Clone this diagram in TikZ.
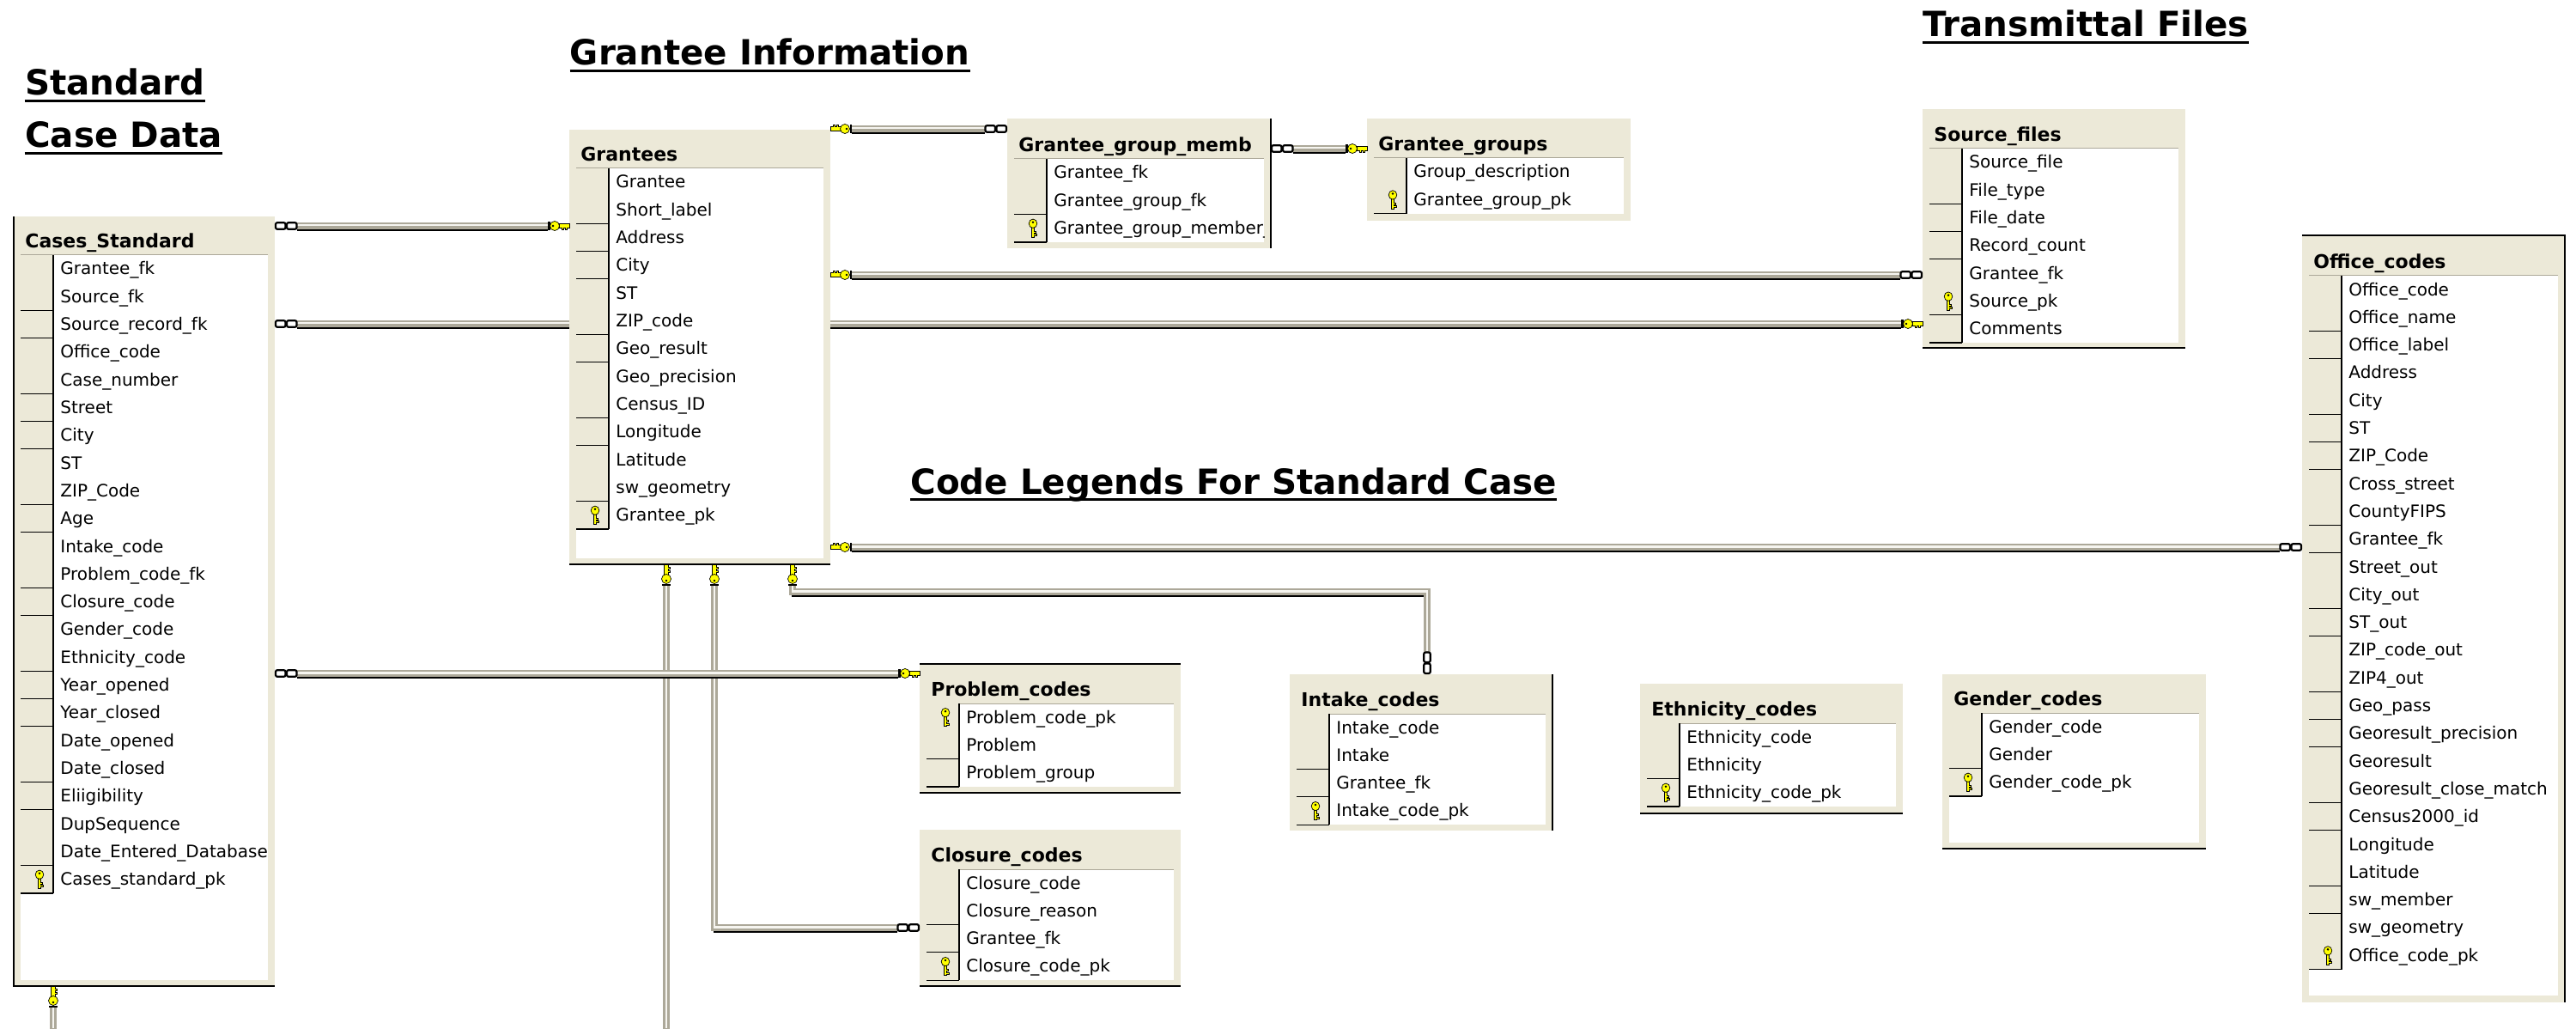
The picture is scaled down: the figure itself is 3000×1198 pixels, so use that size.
\documentclass[tikz,border=0pt]{standalone}
\usepackage{fontspec}
\setmainfont{DejaVu Sans}
\usetikzlibrary{calc}
\pgfdeclarelayer{background}
\pgfsetlayers{background,main}
\definecolor{beige}{HTML}{ECE9D8}
\definecolor{cgray}{HTML}{ACA899}
\definecolor{chi}{HTML}{F6F5F0}
\definecolor{kyel}{HTML}{FFFF00}
\tikzset{
  tblbox/.style={fill=beige, draw=none, inner sep=0pt, outer sep=0pt},
  rowtxt/.style={anchor=base west, inner sep=0pt, font=\fontsize{10}{12}\selectfont},
  ttltxt/.style={anchor=base west, inner sep=0pt, font=\fontsize{11}{13}\selectfont\bfseries},
  hd/.style={anchor=base west, inner sep=0pt, font=\fontsize{20.2}{24}\selectfont\bfseries},
  ulin/.style={line width=1.5pt, black},
  bord/.style={line width=0.75pt, black},
  gsep/.style={line width=0.7pt, black},
  connshadow/.style={line width=1.2pt, black, transform canvas={yshift=-2.3pt}},
  connbase/.style={line width=4pt, cgray},
  connhi/.style={line width=1.3pt, chi, transform canvas={yshift=0.4pt}},
  keystart/.style={shorten <=12.5pt}, keyend/.style={shorten >=12.5pt},
  infstart/.style={shorten <=13pt}, infend/.style={shorten >=13pt},
  pkkey/.pic={
    \draw[line width=0.35pt, fill=kyel] (-1.8,-1) -- (-1.8,10.5) -- (1.8,10.5) -- (1.8,9) -- (4,9) -- (4,7) -- (1.8,7) -- (1.8,5.5) -- (3.5,5.5) -- (3.5,3.5) -- (1.8,3.5) -- (1.8,-1) -- cycle;
    \draw[line width=0.35pt, fill=kyel] (0,-5.5) ellipse [x radius=4.8, y radius=5.2];
    \fill[black] (0,-7) circle [radius=1.4];
  },
  ckey/.pic={
    \fill[black] (-25,-5) rectangle (-22.5,5);
    \draw[line width=0.35pt, fill=kyel] (0,-2.5) -- (-12,-2.5) -- (-12,2.5) -- (-9,2.5) -- (-9,4.5) -- (-7,4.5) -- (-7,2.5) -- (-5,2.5) -- (-5,4.5) -- (-3,4.5) -- (-3,2.5) -- (0,2.5) -- cycle;
    \draw[line width=0.35pt, fill=kyel] (-17,0) circle [radius=5.5];
    \fill[black] (-19,0) circle [radius=1.3];
  },
  cinf/.pic={
    \draw[line width=1.1pt, fill=white, rounded corners=1pt] (-25.5,-3.8) rectangle (-14,3.8);
    \draw[line width=1.1pt, fill=white, rounded corners=1pt] (-12.5,-3.8) rectangle (-1,3.8);
    \fill[black] (-14,-1.2) rectangle (-12.5,1.2);
  }
}
% #1 name, #2 L, #3 T, #4 R, #5 B, #6 white top, #7 white bottom, #8 title, #9 rows
\newcommand\dbtable[9]{%
  \pgfmathsetmacro\tblw{(#4-#2)*0.5}%
  \pgfmathsetmacro\tblh{(#5-#3)*0.5}%
  \node[tblbox, minimum width=\tblw pt, minimum height=\tblh pt, anchor=north west] (#1) at (#2,#3) {};
  \fill[white] ({#2+8},#6) rectangle ({#4-8},#7);
  \draw[cgray, line width=0.5pt] ({#2+8},#6) -- ({#4-8},#6);
  \begin{scope}
    \clip ({#2+8},#3) rectangle ({#4-8},#5);
    \node[ttltxt] (#1-t) at ({#2+13},{#6-8.5}) {#8};
    \foreach \txt/\k [count=\i] in {#9} {
      \pgfmathsetmacro\ya{#6+(\i-1)*32.3}
      \pgfmathsetmacro\yb{#6+\i*32.3}
      \fill[beige] ({#2+8},\ya) rectangle ({#2+46},\yb);
      \draw[gsep] ({#2+8},\yb) -- ({#2+46},\yb);
      \draw[gsep] ({#2+46},\ya) -- ({#2+46},\yb);
      \node[rowtxt] (#1-r\i) at ({#2+54},{\ya+23}) {\txt};
      \ifnum\k=1 \pic at ({#2+30},{\ya+16.15}) {pkkey}; \fi
    }
  \end{scope}
}
\newcommand\conn[2]{%
  \draw[connshadow,#1] #2;
  \draw[connbase,#1] #2;
  \draw[connhi,#1] #2;
}
\begin{document}
\begin{tikzpicture}[x=0.5pt,y=-0.5pt]
\useasboundingbox (0,0) rectangle (3000,1198);
\begin{pgfonlayer}{background}
\fill[white] (0,0) rectangle (3000,1198);
\end{pgfonlayer}

% headings
\node[hd] (h1) at (28.7,111) {Standard~};
\node[hd] (h2) at (28.7,171.7) {Case Data};
\node[hd] (h3) at (663.5,76) {Grantee Information};
\node[hd] (h4) at (2239,42.7) {Transmittal Files};
\node[hd] (h5) at (1060,575) {Code Legends For Standard Case~};
\foreach \h in {h1,h2,h3,h4,h5} {
  \draw[ulin] ($(\h.base west)+(0,6.5)$) -- ($(\h.base east)+(0,6.5)$);
}

% tables
\dbtable{cases}{16}{252}{320}{1148}{297}{1141}{Cases\_Standard}{Grantee\_fk/0,Source\_fk/0,Source\_record\_fk/0,Office\_code/0,Case\_number/0,Street/0,City/0,ST/0,ZIP\_Code/0,Age/0,Intake\_code/0,Problem\_code\_fk/0,Closure\_code/0,Gender\_code/0,Ethnicity\_code/0,Year\_opened/0,Year\_closed/0,Date\_opened/0,Date\_closed/0,Eliigibility/0,DupSequence/0,Date\_Entered\_Database/0,Cases\_standard\_pk/1}
\dbtable{grantees}{663}{151}{967}{657}{196}{650}{Grantees}{Grantee/0,Short\_label/0,Address/0,City/0,ST/0,ZIP\_code/0,Geo\_result/0,Geo\_precision/0,Census\_ID/0,Longitude/0,Latitude/0,sw\_geometry/0,Grantee\_pk/1}
\dbtable{ggm}{1173}{138}{1480}{289}{185}{282}{Grantee\_group\_memb}{Grantee\_fk/0,Grantee\_group\_fk/0,Grantee\_group\_member\_/1}
\dbtable{gg}{1592}{138}{1899}{257}{184}{249}{Grantee\_groups}{Group\_description/0,Grantee\_group\_pk/1}
\dbtable{source}{2239}{127}{2545}{405}{173}{399}{Source\_files}{Source\_file/0,File\_type/0,File\_date/0,Record\_count/0,Grantee\_fk/0,Source\_pk/1,Comments/0}
\dbtable{office}{2681}{274}{2987}{1167}{321}{1159}{Office\_codes}{Office\_code/0,Office\_name/0,Office\_label/0,Address/0,City/0,ST/0,ZIP\_Code/0,Cross\_street/0,CountyFIPS/0,Grantee\_fk/0,Street\_out/0,City\_out/0,ST\_out/0,ZIP\_code\_out/0,ZIP4\_out/0,Geo\_pass/0,Georesult\_precision/0,Georesult/0,Georesult\_close\_match/0,Census2000\_id/0,Longitude/0,Latitude/0,sw\_member/0,sw\_geometry/0,Office\_code\_pk/1}
\dbtable{problem}{1071}{773}{1375}{923}{819}{916}{Problem\_codes}{Problem\_code\_pk/1,Problem/0,Problem\_group/0}
\dbtable{closure}{1071}{966}{1375}{1148}{1012}{1141}{Closure\_codes}{Closure\_code/0,Closure\_reason/0,Grantee\_fk/0,Closure\_code\_pk/1}
\dbtable{intake}{1502}{785}{1808}{967}{831}{960}{Intake\_codes}{Intake\_code/0,Intake/0,Grantee\_fk/0,Intake\_code\_pk/1}
\dbtable{ethnicity}{1910}{796}{2216}{947}{842}{939}{Ethnicity\_codes}{Ethnicity\_code/0,Ethnicity/0,Ethnicity\_code\_pk/1}
\dbtable{gender}{2262}{785}{2569}{988}{830}{981}{Gender\_codes}{Gender\_code/0,Gender/0,Gender\_code\_pk/1}

% borders
\draw[bord] (cases.north west) -- (cases.south west) -- (cases.south east);
\draw[bord] (grantees.south west) -- (grantees.south east);
\draw[bord] (ggm.north east) -- (ggm.south east);
\draw[bord] (source.south west) -- (source.south east);
\draw[bord] (office.north west) -- (office.north east) -- (office.south east);
\draw[bord] (problem.north west) -- (problem.north east);
\draw[bord] (problem.south west) -- (problem.south east);
\draw[bord] (closure.south west) -- (closure.south east);
\draw[bord] (intake.north east) -- (intake.south east);
\draw[bord] (ethnicity.south west) -- (ethnicity.south east);
\draw[bord] (gender.south west) -- (gender.south east);

% connector end points
\coordinate (a1) at ($(cases.north east)+(0,11)$);
\coordinate (a2) at ($(cases.north east)+(0,125)$);
\coordinate (a3) at ($(cases.north east)+(0,532)$);
\coordinate (b1) at ($(grantees.north east)+(0,-1)$);
\coordinate (b2) at ($(grantees.north east)+(0,169)$);
\coordinate (b3) at ($(grantees.north east)+(0,486)$);
\coordinate (g1) at ($(ggm.north east)+(0,35)$);
\coordinate (d1) at ($(grantees.south west)+(113,0)$);
\coordinate (d2) at ($(grantees.south west)+(169,0)$);
\coordinate (d3) at ($(grantees.south west)+(260,0)$);
\coordinate (d3b) at ($(d3)+(0,32)$);
\coordinate (d1e) at (d1 |- 0,1198);
\coordinate (cl) at ($(closure.north west)+(0,114)$);
\coordinate (in) at ($(intake.north west)+(160,0)$);
\coordinate (cb) at ($(cases.south west)+(46,0)$);
\coordinate (cbe) at (cb |- 0,1198);
\coordinate (a1e) at (a1 -| grantees.west);
\coordinate (a2e) at (a2 -| source.west);
\coordinate (a3e) at (a3 -| problem.west);
\coordinate (b1e) at (b1 -| ggm.west);
\coordinate (b2e) at (b2 -| source.west);
\coordinate (b3e) at (b3 -| office.west);
\coordinate (g1e) at (g1 -| gg.west);

\begin{pgfonlayer}{background}
\conn{infstart,keyend}{(a1) -- (a1e)}
\conn{infstart,keyend}{(a2) -- (a2e)}
\conn{keystart,infend}{(b1) -- (b1e)}
\conn{keystart,infend}{(b2) -- (b2e)}
\conn{keystart,infend}{(b3) -- (b3e)}
\conn{infstart,keyend}{(g1) -- (g1e)}
\conn{keystart}{(d1) -- (d1e)}
\conn{keystart,infend}{(d2) -- (d2 |- cl) -- (cl)}
\conn{infstart,keyend}{(a3) -- (a3e)}
\conn{keystart,infend}{(d3) -- (d3b) -| (in)}
\conn{keystart}{(cb) -- (cbe)}
\end{pgfonlayer}

% end symbols
\pic[rotate=180] at (a1) {cinf};
\pic at (a1e) {ckey};
\pic[rotate=180] at (a2) {cinf};
\pic at (a2e) {ckey};
\pic[rotate=180] at (a3) {cinf};
\pic at (a3e) {ckey};
\pic[rotate=180] at (b1) {ckey};
\pic at (b1e) {cinf};
\pic[rotate=180] at (b2) {ckey};
\pic at (b2e) {cinf};
\pic[rotate=180] at (b3) {ckey};
\pic at (b3e) {cinf};
\pic[rotate=180] at (g1) {cinf};
\pic at (g1e) {ckey};
\pic[rotate=90] at (d1) {ckey};
\pic[rotate=90] at (d2) {ckey};
\pic[rotate=90] at (d3) {ckey};
\pic[rotate=90] at (cb) {ckey};
\pic at (cl) {cinf};
\pic[rotate=-90] at (in) {cinf};
\end{tikzpicture}
\end{document}
